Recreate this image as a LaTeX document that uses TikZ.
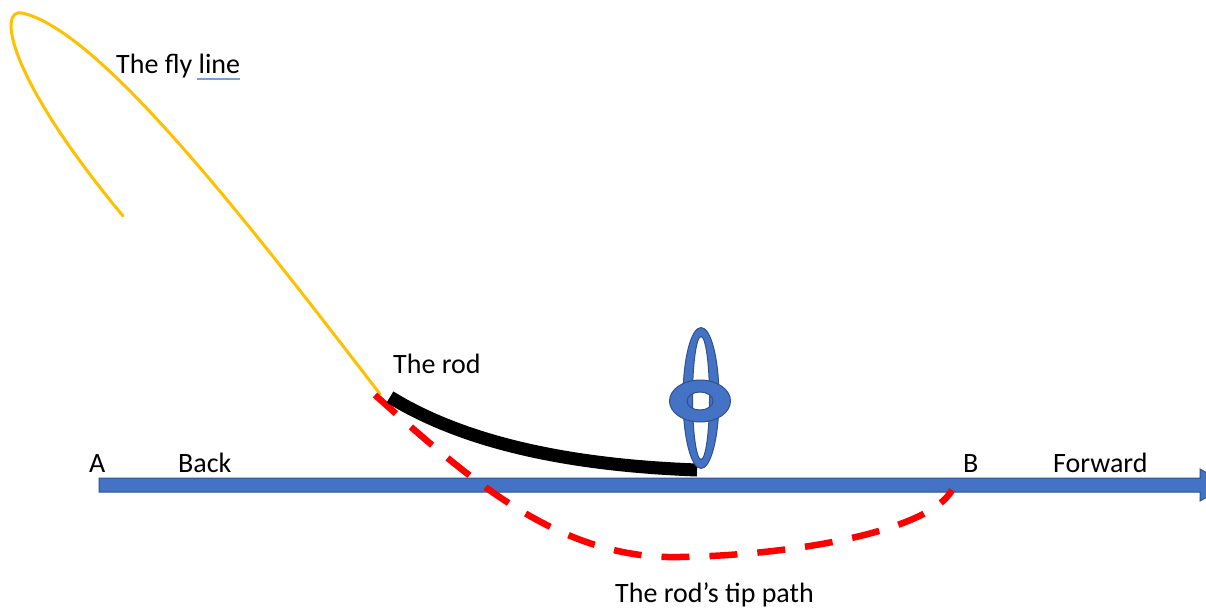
\documentclass[tikz,border=0pt]{standalone}
\usepackage{fontspec}
\setmainfont{Carlito}
\definecolor{flyyellow}{HTML}{FFC000}
\definecolor{axisblue}{HTML}{4472C4}
\definecolor{axisedge}{HTML}{2F528F}
\definecolor{tipred}{HTML}{FF0000}
\definecolor{spellblue}{HTML}{7B9BE0}
\tikzset{
  lbl/.style={anchor=base west, inner sep=0pt, font=\fontsize{28}{32}\selectfont, text=black},
  flyline/.style={draw=flyyellow, line width=3pt, line cap=round},
  axisarrow/.style={fill=axisblue, draw=axisedge, line width=1pt},
  tippath/.style={draw=tipred, line width=6.5pt, dash pattern=on 28pt off 20pt},
  rodline/.style={draw=black, line width=13pt, line cap=butt},
  reelpart/.style={fill=axisblue, draw=axisedge, line width=1pt, even odd rule},
}
\begin{document}
\begin{tikzpicture}[x=1pt,y=-1pt]
\useasboundingbox (0,0) rectangle (1206,609);
\clip (0,0) rectangle (1206,609);
\fill[white] (0,0) rectangle (1206,609);

% coordinates
\coordinate (lineend) at (123,216);
\coordinate (looptop) at (22,13);
\coordinate (rodtip) at (380,394);
\coordinate (tipstart) at (375,395);
\coordinate (tipbottom) at (680,557);
\coordinate (tipend) at (952,490);
\coordinate (rodstart) at (390,397);
\coordinate (rodend) at (697,470);

% fly line
\draw[flyline] (rodtip) .. controls (250,225) and (100,30) .. (looptop)
  .. controls (-2,8) and (6,75) .. (lineend);

% axis arrow
\path[axisarrow] (99,478) -- (1200,478) -- (1200,469) -- (1228,485) -- (1200,501) -- (1200,492) -- (99,492) -- cycle;

% rod tip path
\draw[tippath] (tipstart) .. controls (470,480) and (560,560) .. (tipbottom)
  .. controls (800,555) and (930,530) .. (tipend);

% rod
\draw[rodline] (rodstart) .. controls (460,440) and (560,465) .. (rodend);

% reel
\path[reelpart] (701,398) ellipse [x radius=18, y radius=70.5]
                (701,398) ellipse [x radius=8.5, y radius=61.5];
\path[reelpart] (700,401) ellipse [x radius=30.5, y radius=21]
                (700,401) ellipse [x radius=13, y radius=9];

% labels
\node[lbl] (flytext) at (116,74) {The fly line};
\draw[spellblue, line width=2pt] (flytext.base east) ++(-43,5) -- ++(43,0);
\node[lbl] (rodtext) at (393,373) {The rod};
\node[lbl] (atext) at (89,472) {A};
\node[lbl] (backtext) at (178,472) {Back};
\node[lbl] (btext) at (963,472) {B};
\node[lbl] (fwdtext) at (1053,472) {Forward};
\node[lbl] (tiptext) at (615,602) {The rod’s tip path};
\end{tikzpicture}
\end{document}
